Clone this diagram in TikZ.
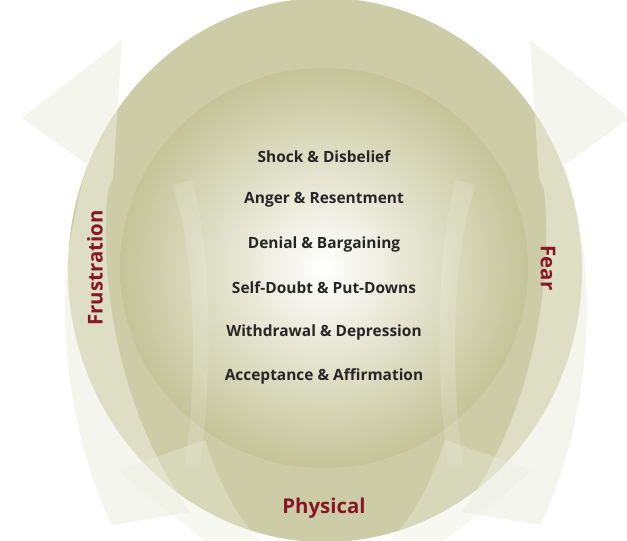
\documentclass[tikz,border=0pt]{standalone}
\usepackage{fontspec}
\setmainfont{Open Sans}
\begin{document}
\begin{tikzpicture}[x=1mm,y=-1mm,
  stage/.style={font=\fontsize{44}{50}\selectfont\bfseries, text=black!85},
  lbl/.style={font=\fontsize{58}{64}\selectfont\bfseries, text=labred},
  arr/.style={fill=arrowc, fill opacity=0.55}]
\definecolor{labred}{RGB}{135,22,38}
\definecolor{olive}{RGB}{204,204,166}
\definecolor{innerolive}{RGB}{196,196,152}
\definecolor{arrowc}{RGB}{236,237,222}
\useasboundingbox[fill=white] (0,0) rectangle (627,540);
% outer ellipse
\path[fill=olive] (325,270) ellipse [x radius=257, y radius=272];
% left arrow
\path[arr] (112,525) .. controls (70,440) and (55,320) .. (72,230)
  .. controls (78,200) and (82,180) .. (88,165) -- (22,118) -- (122,40)
  -- (113,178) -- (108,190) .. controls (100,260) and (110,400) .. (190,512) -- cycle;
% right arrow
\path[arr] (540,525) .. controls (582,440) and (597,320) .. (580,230)
  .. controls (574,200) and (570,180) .. (564,165) -- (630,118) -- (530,40)
  -- (539,178) -- (544,190) .. controls (552,260) and (542,400) .. (462,512) -- cycle;
% bottom bands
\path[arr, fill opacity=0.35] (118,470) .. controls (150,500) and (180,520) .. (205,540) -- (260,540) .. controls (230,510) and (215,470) .. (205,440) -- cycle;
\path[arr, fill opacity=0.35] (532,470) .. controls (500,500) and (470,520) .. (445,540) -- (390,540) .. controls (420,510) and (435,470) .. (445,440) -- cycle;
% inner ellipse
\path[inner color=white, outer color=innerolive] (324,268) ellipse [x radius=204, y radius=200];
% faint vertical bands inside
\path[fill=white, fill opacity=0.15] (172,185) .. controls (200,260) and (195,400) .. (185,465) -- (200,465) .. controls (210,400) and (215,260) .. (192,180) -- cycle;
\path[fill=white, fill opacity=0.15] (476,185) .. controls (448,260) and (453,400) .. (463,465) -- (448,465) .. controls (438,400) and (433,260) .. (456,180) -- cycle;
% texts
\node[stage] (s1) at (324,157) {Shock \& Disbelief};
\node[stage] (s2) at (324,200) {Anger \& Resentment};
\node[stage] (s3) at (324,244) {Denial \& Bargaining};
\node[stage] (s4) at (324,288) {Self-Doubt \& Put-Downs};
\node[stage] (s5) at (324,332) {Withdrawal \& Depression};
\node[stage] (s6) at (324,376) {Acceptance \& Affirmation};
\node[lbl, rotate=90] (fr) at (95,268) {Frustration};
\node[lbl, rotate=-90] (fe) at (548,268) {Fear};
\node[lbl] (ph) at (324,508) {Physical};
\end{tikzpicture}
\end{document}
